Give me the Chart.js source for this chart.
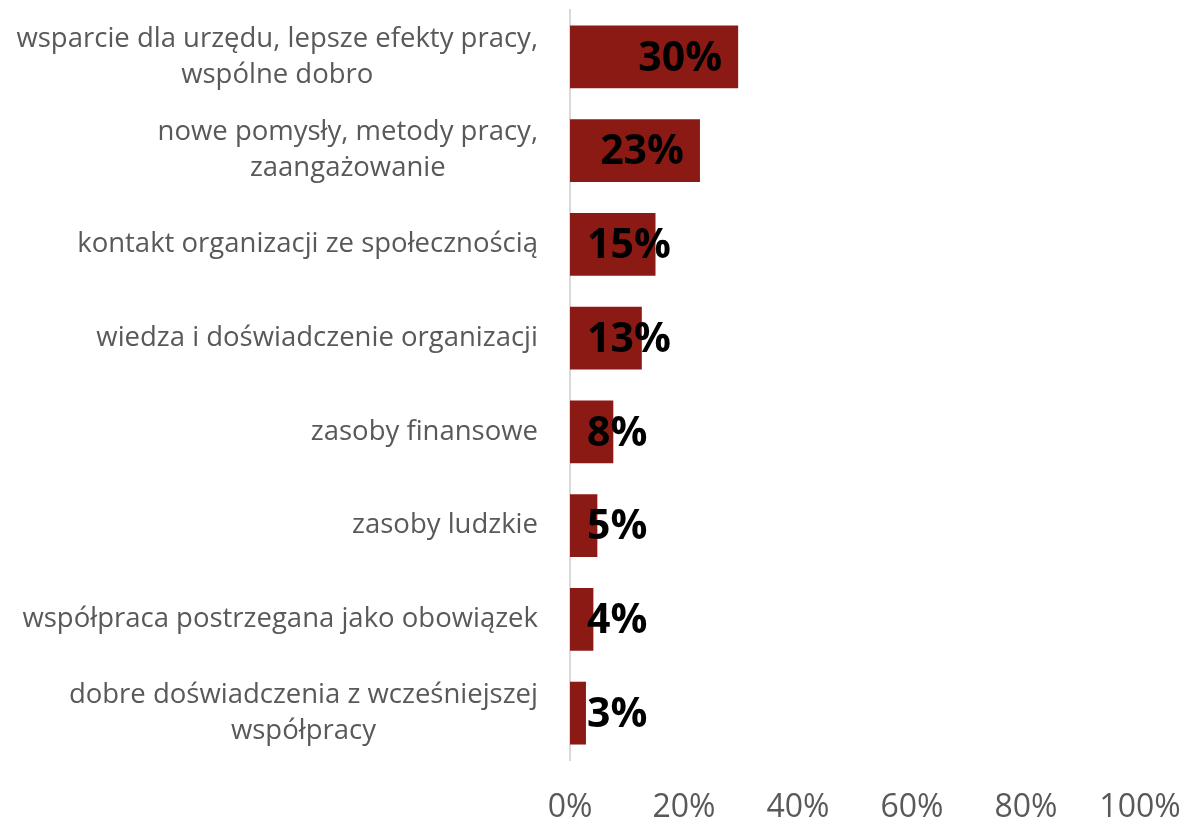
<!DOCTYPE html>
<html>
<head>
<meta charset="utf-8">
<title>Korzyści ze współpracy</title>
<script src="https://cdn.jsdelivr.net/npm/chart.js@4.4.1/dist/chart.umd.min.js"></script>
<style>
    body { margin: 0; background: #fff; }
    #wrap { width: 1184px; height: 823px; }
</style>
</head>
<body>
<div id="wrap"><canvas id="chart" width="1184" height="823"></canvas></div>
<script>
// Dane z wykresu
const categories = [
    ['wsparcie dla urzędu, lepsze efekty pracy,', 'wspólne dobro'],
    ['nowe pomysły, metody pracy,', 'zaangażowanie'],
    ['kontakt organizacji ze społecznością'],
    ['wiedza i doświadczenie organizacji'],
    ['zasoby finansowe'],
    ['zasoby ludzkie'],
    ['współpraca postrzegana jako obowiązek'],
    ['dobre doświadczenia z wcześniejszej', 'współpracy']
];
const values = [29.5, 22.8, 15.0, 12.6, 7.6, 4.8, 4.1, 2.8];
const tickValues = [0, 20, 40, 60, 80, 100];

const BAR_COLOR = '#8b1a15';
const TEXT_GRAY = '#595959';
const FONT = '"Open Sans", "DejaVu Sans", sans-serif';

// etykiety kategorii (wyśrodkowane linie, blok wyrównany do prawej)
// oraz wartości procentowe na słupkach
const labelsPlugin = {
    id: 'customLabels',
    afterDatasetsDraw(chart) {
        const ctx = chart.ctx;
        const meta = chart.getDatasetMeta(0);
        const base = chart.scales.x.getPixelForValue(0);

        ctx.save();
        ctx.font = 'bold 41px ' + FONT;
        ctx.fillStyle = '#000';
        ctx.textBaseline = 'middle';
        ctx.textAlign = 'left';
        meta.data.forEach((bar, i) => {
            const text = Math.round(values[i]) + '%';
            const w = ctx.measureText(text).width;
            let x = bar.x - 16 - w;
            if (x < base + 17) x = base + 17;
            ctx.fillText(text, x, bar.y + 2);
        });
        ctx.restore();
    },
    afterDraw(chart) {
        const ctx = chart.ctx;
        const yScale = chart.scales.y;
        const right = 538;
        const lineH = 36;

        ctx.save();
        ctx.font = '27.5px ' + FONT;
        ctx.fillStyle = TEXT_GRAY;
        ctx.textBaseline = 'middle';
        ctx.textAlign = 'center';
        categories.forEach((lines, i) => {
            const yc = yScale.getPixelForValue(i);
            const maxW = Math.max(...lines.map(l => ctx.measureText(l).width));
            const cx = right - maxW / 2;
            lines.forEach((line, j) => {
                ctx.fillText(line, cx, yc + (j - (lines.length - 1) / 2) * lineH);
            });
        });
        ctx.restore();
    }
};

new Chart(document.getElementById('chart'), {
    type: 'bar',
    data: {
        labels: categories.map(c => c.join(' ')),
        datasets: [{
            data: values,
            backgroundColor: BAR_COLOR,
            categoryPercentage: 1,
            barPercentage: 0.67
        }]
    },
    options: {
        indexAxis: 'y',
        responsive: false,
        animation: false,
        layout: { padding: { top: 10, right: 44, left: 0, bottom: 0 } },
        plugins: {
            legend: { display: false },
            tooltip: { enabled: false }
        },
        scales: {
            x: {
                min: 0,
                max: 100,
                afterBuildTicks: (scale) => {
                    scale.ticks = tickValues.map(v => ({ value: v }));
                },
                afterFit: (scale) => {
                    scale.height = 63;
                    scale.paddingLeft = 0;
                    scale.paddingRight = 0;
                },
                grid: { display: false, drawTicks: false },
                border: { display: false },
                ticks: {
                    padding: 29,
                    color: TEXT_GRAY,
                    font: { family: FONT, size: 32 },
                    maxRotation: 0,
                    callback: (v) => v + '%'
                }
            },
            y: {
                afterFit: (scale) => { scale.width = 570; },
                grid: { display: false, drawTicks: false },
                border: { display: true, color: '#d9d9d9', width: 2 },
                ticks: { display: false }
            }
        }
    },
    plugins: [labelsPlugin]
});
</script>
</body>
</html>
